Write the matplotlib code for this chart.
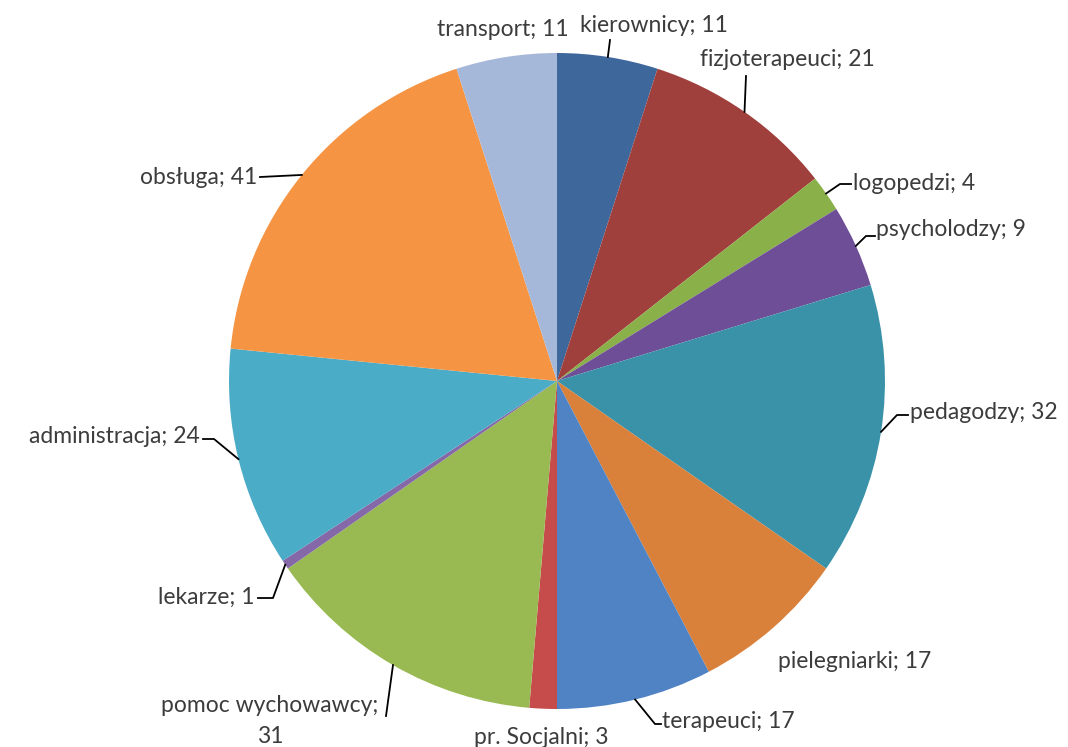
import numpy as np
import matplotlib
matplotlib.use('Agg')
import matplotlib.pyplot as plt

# Staff categories and headcounts (clockwise from 12 o'clock)
categories = ['kierownicy', 'fizjoterapeuci', 'logopedzi', 'psycholodzy', 'pedagodzy',
              'pielegniarki', 'terapeuci', 'pr. Socjalni', 'pomoc wychowawcy', 'lekarze',
              'administracja', 'obsługa', 'transport']
counts = [11, 21, 4, 9, 32, 17, 17, 3, 31, 1, 24, 41, 11]
colors = ['#3E679C', '#A0403D', '#8AB04A', '#6E4E96', '#3A92A9', '#D9803A', '#5083C4',
          '#C64C4B', '#99BA52', '#8468A8', '#4BACC8', '#F59544', '#A6B8D9']

label_texts = ['kierownicy; 11', 'fizjoterapeuci; 21', 'logopedzi; 4', 'psycholodzy; 9',
               'pedagodzy; 32', 'pielegniarki; 17', 'terapeuci; 17', 'pr. Socjalni; 3',
               'pomoc wychowawcy;\n31', 'lekarze; 1', 'administracja; 24', 'obsługa; 41',
               'transport; 11']

# label anchor in pixels (x, y, ha, va) and end of leader line near the label (None = no leader)
label_pos = [(580, 26, 'left', 'center'), (700, 60, 'left', 'center'), (853, 183, 'left', 'center'),
             (876, 230, 'left', 'center'), (910, 413, 'left', 'center'), (778, 662, 'left', 'center'),
             (662, 722, 'left', 'center'), (541, 737, 'center', 'center'), (270, 721, 'center', 'center'),
             (255, 597, 'right', 'center'), (200, 437, 'right', 'center'), (257, 177, 'right', 'center'),
             (503, 30, 'center', 'center')]
leader_end = [[(610, 40)], [(746, 76)], [(840, 184), (851, 184)], [(866, 236), (875, 236)],
              [(897, 415), (908, 415)], None, [(655, 724), (661, 724)], None, [(386, 716)],
              [(273, 598), (258, 598)], [(214, 439), (203, 439)], [(260, 177)], None]

W, H = 1068, 747
cx, cy, R = 557, 381, 328

fig = plt.figure(figsize=(W / 100, H / 100), dpi=100)
ax = fig.add_axes([(cx - R) / W, (H - cy - R) / H, 2 * R / W, 2 * R / H])

ax.pie(counts, colors=colors, startangle=90, counterclock=False, radius=1,
       wedgeprops=dict(linewidth=0))
ax.set_xlim(-1, 1)
ax.set_ylim(-1, 1)
ax.axis('off')


def px2d(x, y):
    return (x - cx) / R, (cy - y) / R


total = float(sum(counts))
cum = np.cumsum([0] + counts)
for i, txt in enumerate(label_texts):
    x, y, ha, va = label_pos[i]
    tx, ty = px2d(x, y)
    ax.text(tx, ty, txt, ha=ha, va=va, fontsize=16.5, color='#3C3C3C',
            family='Lato', linespacing=1.6, clip_on=False)
    if leader_end[i] is not None:
        mid = (cum[i] + counts[i] / 2) / total * 2 * np.pi
        pts = [(np.sin(mid), np.cos(mid))] + [px2d(px, py) for px, py in leader_end[i]]
        xs, ys = zip(*pts)
        ax.plot(xs, ys, color='black', linewidth=1.3, clip_on=False)

fig.savefig('out.png', dpi=100)
